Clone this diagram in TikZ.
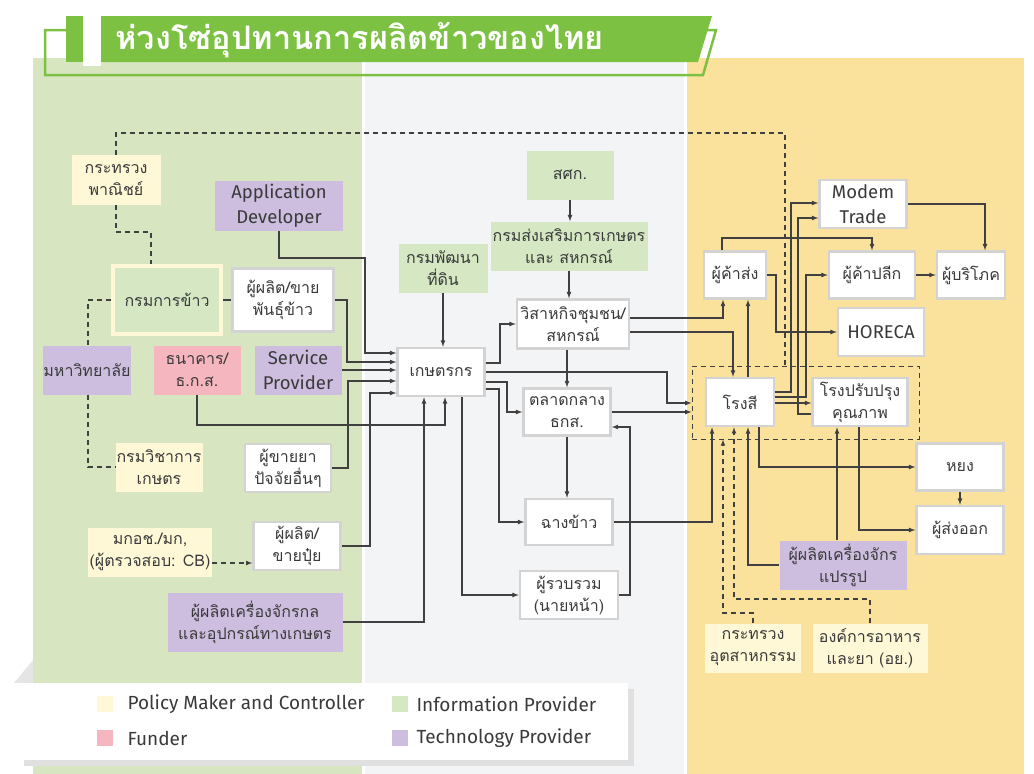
\documentclass[tikz,border=0pt]{standalone}
\usepackage{fontspec}
\setmainfont{Loma}[Script=Thai]
\newfontfamily\latinfont{Fira Sans}
\usetikzlibrary{arrows}
\definecolor{bggreen}{HTML}{D8E5C1}
\definecolor{bggray}{HTML}{F3F4F6}
\definecolor{bgyellow}{HTML}{FAE29C}
\definecolor{cpol}{HTML}{FFF8D6}
\definecolor{cinfo}{HTML}{D6E8C3}
\definecolor{cfund}{HTML}{F6B6BF}
\definecolor{ctech}{HTML}{CDBEDF}
\definecolor{cborder}{HTML}{D3D3D3}
\definecolor{tgreen}{HTML}{7CC142}
\definecolor{cline}{HTML}{404040}
\definecolor{ctext}{HTML}{3A3A3A}
\begin{document}
\begin{tikzpicture}[x=1pt,y=-1pt,
  every node/.style={font=\fontsize{16}{22}\selectfont, text=ctext},
  lat/.style={font=\latinfont\fontsize{18.5}{25}\selectfont},
  sz/.style 2 args={minimum width=#1pt, minimum height=#2pt},
  box/.style={rectangle, align=center, inner sep=0pt},
  actor/.style={box, fill=white, draw=cborder, line width=2.5pt},
  pol/.style={box, fill=cpol},
  info/.style={box, fill=cinfo},
  fund/.style={box, fill=cfund},
  tech/.style={box, fill=ctech},
  wire/.style={cline, line width=1.2pt},
  arr/.style={wire, -latex},
  dline/.style={cline, line width=1.1pt, dash pattern=on 5pt off 4pt},
  darr/.style={dline, -latex}]
\useasboundingbox (0,0) rectangle (1034,774);
% panels
\fill[bggreen] (33,58) rectangle (362,774);
\fill[bggray] (365,58) rectangle (684,774);
\fill[bgyellow] (687,58) rectangle (1024,774);
% title
\draw[tgreen, line width=2.5pt] (66,30) -- (45,30) -- (45,75) -- (703,75) -- (716,30) -- (700,30);
\fill[tgreen] (66,16) rectangle (83,62);
\fill[white] (83,16) rectangle (101,66);
\fill[tgreen] (101,16) -- (712,16) -- (698,62) -- (101,62) -- cycle;
\node[anchor=west, text=white, font=\bfseries\fontsize{32.5}{33}\selectfont] (title) at (112,40) {ห่วงโซ่อุปทานการผลิตข้าวของไทย};

% left panel
\node[pol, sz={89}{50}] (mocom) at (116,180) {กระทรวง\\พาณิชย์};
\node[tech, lat, sz={128}{50}] (appdev) at (279,206) {Application\\Developer};
\node[info, draw=cpol, line width=4pt, sz={108}{68}] (ricedept) at (167,300) {กรมการข้าว};
\node[actor, sz={101}{63}] (seed) at (283,300) {ผู้ผลิต/ขาย\\พันธุ์ข้าว};
\node[tech, sz={87}{49}] (univ) at (87,370) {มหาวิทยาลัย};
\node[fund, sz={87}{49}] (bank) at (197,370) {ธนาคาร/\\ธ.ก.ส.};
\node[tech, lat, sz={87}{49}] (service) at (298,370) {Service\\Provider};
\node[pol, sz={87}{49}] (doa) at (159,467) {กรมวิชาการ\\เกษตร};
\node[actor, sz={86}{48}] (chem) at (288,468) {ผู้ขายยา\\ปัจจัยอื่นๆ};
\node[pol, sz={124}{49}] (acfs) at (150,552) {มกอช./มก,\\(ผู้ตรวจสอบ: CB)};
\node[actor, sz={87}{48}] (fert) at (297,546) {ผู้ผลิต/\\ขายปุ๋ย};
\node[tech, sz={175}{59}] (mach) at (255,622) {ผู้ผลิตเครื่องจักรกล\\และอุปกรณ์ทางเกษตร};

% centre panel
\node[info, sz={87}{49}] (oae) at (570,175) {สศก.};
\node[info, sz={157}{49}] (doae) at (569,246) {กรมส่งเสริมการเกษตร\\และ สหกรณ์};
\node[info, sz={89}{49}] (ldd) at (443,268) {กรมพัฒนา\\ที่ดิน};
\node[actor, sz={112}{49}] (coop) at (573,324) {วิสาหกิจชุมชน/\\สหกรณ์};
\node[actor, sz={87}{48}] (farmer) at (441,372) {เกษตรกร};
\node[actor, sz={87}{47}] (market) at (567,412) {ตลาดกลาง\\ธกส.};
\node[actor, sz={87}{46}] (silo) at (569,522) {ฉางข้าว};
\node[actor, sz={98}{48}] (broker) at (569,595) {ผู้รวบรวม\\(นายหน้า)};

% right panel
\node[draw=cline, line width=1pt, dash pattern=on 5pt off 4pt, sz={227}{73}] (millgrp) at (805.5,402.5) {};
\node[actor, lat, sz={87}{48}] (modern) at (863,204) {Modem\\Trade};
\node[actor, sz={62}{47}] (whole) at (735,275) {ผู้ค้าส่ง};
\node[actor, sz={86}{47}] (retail) at (872,275) {ผู้ค้าปลีก};
\node[actor, sz={68}{47}] (consumer) at (971,275) {ผู้บริโภค};
\node[actor, lat, sz={86}{48}] (horeca) at (881,332) {HORECA};
\node[actor, sz={68}{48}] (mill) at (740,402) {โรงสี};
\node[actor, sz={95}{48}] (upgrade) at (860,402) {โรงปรับปรุง\\คุณภาพ};
\node[actor, sz={87}{47}] (yong) at (960,467) {หยง};
\node[actor, sz={87}{48}] (export) at (960,530) {ผู้ส่งออก};
\node[tech, sz={127}{49}] (procmach) at (843,565) {ผู้ผลิตเครื่องจักร\\แปรรูป};
\node[pol, sz={96}{49}] (moi) at (753,648) {กระทรวง\\อุตสาหกรรม};
\node[pol, sz={115}{49}] (fda) at (870,648) {องค์การอาหาร\\และยา (อย.)};

% dashed links
\draw[dline] (mocom.north) |- (785,133) -- (millgrp.north -| 785,0);
\draw[dline] (mocom.south) |- (151,232) -- (ricedept.north -| 151,0);
\draw[dline] (ricedept.west) -| (univ.north -| 88,0);
\draw[dline] (univ.south -| 88,0) |- (doa.west);
\draw[darr] (acfs.east |- 0,563) -- (fert.west |- 0,563);
\draw[darr] (moi.north) |- (723,613) -- (millgrp.south -| 723,0);
\draw[darr] (fda.north) |- (734,599) -- (mill.south -| 734,0);

% into farmer
\draw[wire] (ricedept.east) -- (seed.west);
\draw[arr] (appdev.south) |- (365,258) |- (farmer.west |- 0,353);
\draw[arr] (seed.east) -| (347,362) -- (farmer.west |- 0,362);
\draw[arr] (service.east) -- (farmer.west |- service.east);
\draw[arr] (chem.east) -| (348,381) -- (farmer.west |- 0,381);
\draw[arr] (fert.east) -| (370,393) -- (farmer.west |- 0,393);
\draw[arr] (bank.south) |- (445,425) -- (farmer.south -| 445,0);
\draw[arr] (mach.east) -| (farmer.south -| 424,0);
\draw[arr] (ldd.south) -- (farmer.north -| ldd.south);

% out of farmer
\draw[arr] (farmer.east |- 0,363) -| (500,324) -- (coop.west);
\draw[arr] (farmer.east |- 0,372) -| (667,403) -- (millgrp.west |- 0,403);
\draw[arr] (farmer.east |- 0,382) -| (507,412) -- (market.west);
\draw[arr] (farmer.east |- 0,389) -| (499,522) -- (silo.west);
\draw[arr] (farmer.south -| 462,0) |- (broker.west);

% centre column
\draw[arr] (oae.south -| 570,0) -- (doae.north -| 570,0);
\draw[arr] (doae.south -| 569,0) -- (coop.north -| 569,0);
\draw[arr] (coop.south -| 567,0) -- (market.north -| 567,0);
\draw[arr] (market.south -| 567,0) -- (silo.north -| 567,0);
\draw[arr] (broker.east) -| (630,427) -- (market.east |- 0,427);
\draw[arr] (market.east) -- (millgrp.west |- market.east);
\draw[arr] (silo.east) -| (mill.south -| 712,0);

% right panel links
\draw[arr] (coop.east |- 0,318) -| (whole.south -| 723,0);
\draw[arr] (coop.east |- 0,332) -| (mill.north -| 733,0);
\draw[arr] (mill.north -| 748,0) -- (whole.south -| 748,0);
\draw[arr] (whole.north -| 722,0) |- (872,238) -- (retail.north);
\draw[arr] (whole.east) -| (776,332) -- (horeca.west);
\draw[arr] (mill.east |- 0,392) -| (791,203) -- (modern.west |- 0,203);
\draw[arr] (upgrade.west |- 0,414) -| (798,218) -- (modern.west |- 0,218);
\draw[arr] (mill.east |- 0,397) -| (806,275) -- (retail.west);
\draw[arr] (mill.east |- 0,403) -- (upgrade.west |- 0,403);
\draw[arr] (modern.east) -| (consumer.north -| 985,0);
\draw[arr] (retail.east) -- (consumer.west);
\draw[arr] (mill.south -| 759,0) |- (yong.west);
\draw[arr] (upgrade.south -| 859,0) |- (export.west);
\draw[arr] (procmach.north -| 837,0) -- (upgrade.south -| 837,0);
\draw[arr] (procmach.west) -| (mill.south -| 748,0);
\draw[arr] (yong.south) -- (export.north);

% legend
\fill[black!10] (14,683) -- (33,660) -- (33,683) -- cycle;
\fill[black!12] (24,689) rectangle (634,766);
\fill[white] (18,683) rectangle (628,760);
\node[pol, sz={16}{16}] (kpol) at (105,704) {};
\node[anchor=west, font=\latinfont\fontsize{19}{22}\selectfont] (tpol) at (124,704) {Policy Maker and Controller};
\node[info, sz={16}{16}] (kinfo) at (400,704) {};
\node[anchor=west, font=\latinfont\fontsize{19}{22}\selectfont] (tinfo) at (413,704) {Information Provider};
\node[fund, sz={16}{16}] (kfund) at (105,738) {};
\node[anchor=west, font=\latinfont\fontsize{19}{22}\selectfont] (tfund) at (124,738) {Funder};
\node[tech, sz={16}{16}] (ktech) at (400,738) {};
\node[anchor=west, font=\latinfont\fontsize{19}{22}\selectfont] (ttech) at (413,738) {Technology Provider};
\end{tikzpicture}
\end{document}
